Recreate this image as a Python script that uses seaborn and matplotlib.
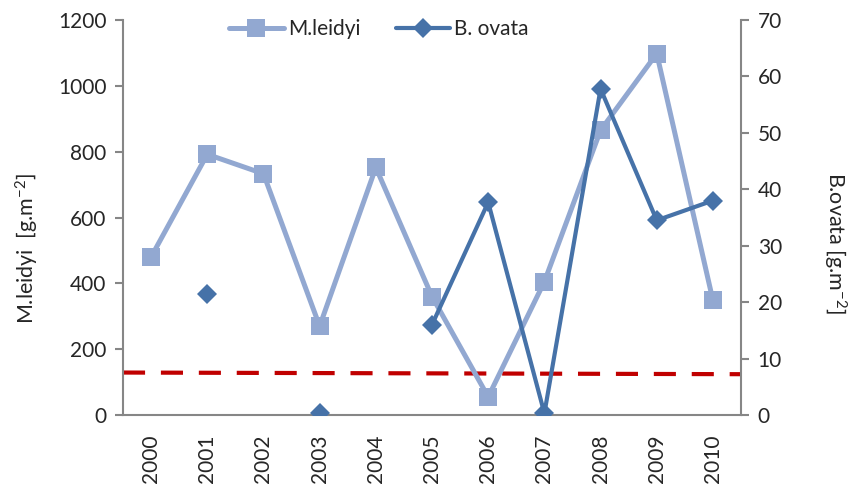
import numpy as np
import pandas as pd
import matplotlib
matplotlib.use("Agg")
import matplotlib.pyplot as plt
import seaborn as sns

# data
years = ["2000", "2001", "2002", "2003", "2004", "2005", "2006", "2007", "2008", "2009", "2010"]
m_leidyi = [480, 792, 733, 270, 752, 360, 55, 405, 865, 1098, 348]
b_ovata = [np.nan, 21.5, np.nan, 0.3, np.nan, 16.0, 37.7, 0.3, 57.8, 34.5, 38.0]
# segments of the B. ovata series (gaps break the line)
b_ovata_seg = [0, 1, 2, 3, 4, 5, 5, 5, 5, 5, 5]
threshold = [129, 124]  # red dashed level, start and end (left axis)

light_blue = "#92A8D1"
dark_blue = "#4672A8"
red = "#C00000"
spine_gray = "#868686"

sns.set_style("white")
plt.rcParams["font.family"] = ["Lato", "DejaVu Sans"]
plt.rcParams["mathtext.default"] = "regular"

df = pd.DataFrame({"pos": range(len(years)), "year": years,
                   "m_leidyi": m_leidyi, "b_ovata": b_ovata, "seg": b_ovata_seg})

fig = plt.figure(figsize=(8.5, 4.93), dpi=100)
ax = fig.add_axes([0.1447, 0.1582, 0.8718 - 0.1447, 0.9594 - 0.1582])
ax2 = ax.twinx()

# red dashed line spanning the plot
ax.plot([-0.5, len(years) - 0.5], threshold, color=red, lw=3,
        dashes=(5.3, 3.8), zorder=1)

sns.lineplot(data=df, x="pos", y="m_leidyi", ax=ax, color=light_blue,
             lw=3.6, marker="s", markersize=13, markeredgewidth=0,
             zorder=2)
sns.lineplot(data=df.dropna(), x="pos", y="b_ovata", units="seg", estimator=None,
             ax=ax2, color=dark_blue, lw=3, marker="D", markersize=10,
             markeredgewidth=0)

ax.set_xlim(-0.5, len(years) - 0.5)
ax.set_ylim(0, 1200)
ax2.set_ylim(0, 70)
ax.set_yticks(range(0, 1201, 200))
ax2.set_yticks(range(0, 71, 10))

ax.set_xticks(np.arange(len(years)))
ax.set_xticklabels(years, rotation=90)
ax.set_xticks(np.arange(-0.5, len(years)), minor=True)
ax.tick_params(axis="x", which="major", length=0, pad=14, labelsize=15)
ax.tick_params(axis="x", which="minor", length=6, width=1.5, color=spine_gray,
               direction="out")
ax.tick_params(axis="y", length=6, width=1.5, color=spine_gray, direction="out",
               labelsize=15, pad=6)
ax2.tick_params(axis="y", length=6, width=1.5, color=spine_gray, direction="out",
                labelsize=15, pad=6)

for a in (ax, ax2):
    a.spines["top"].set_visible(False)
    for s in ("left", "right", "bottom"):
        a.spines[s].set_color(spine_gray)
        a.spines[s].set_linewidth(1.5)
ax2.spines["bottom"].set_visible(False)
ax.spines["right"].set_visible(False)
ax2.spines["left"].set_visible(False)

ax.set_xlabel("")
ax.set_ylabel("M.leidyi  [g.m$^{-2}$]", fontsize=15.5, va="center")
ax2.set_ylabel("B.ovata [g.m$^{-2}$]", fontsize=15.5, rotation=-90, va="center")
ax.yaxis.set_label_coords(-0.155, 0.423)
ax2.yaxis.set_label_coords(1.152, 0.435)

handles = [ax.lines[1], ax2.lines[0]]
ax2.legend(handles, ["M.leidyi", "B. ovata"], loc="upper center",
           bbox_to_anchor=(0.414, 1.05), ncol=2, frameon=False, fontsize=15,
           handlelength=2.6, handletextpad=0.2, columnspacing=1.7)

fig.savefig("out.png", dpi=100)
